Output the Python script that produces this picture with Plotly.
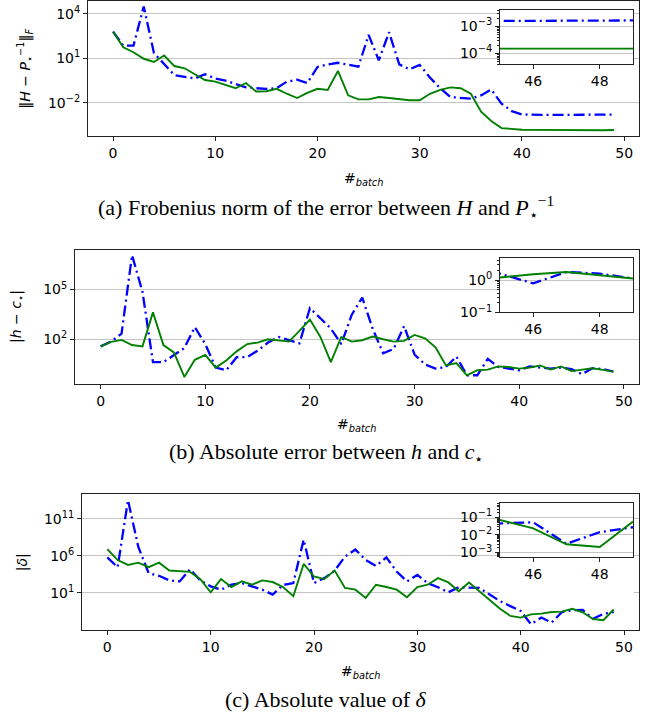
import plotly.graph_objects as go

W, H = 654, 722

batch = list(range(50))

# (a) Frobenius norm, log10 values
a_blue_log = [2.79, 1.85, 1.85, 4.48, 1.36, 0.59, -0.13, -0.24, -0.35, -0.07,
              -0.35, -0.50, -0.75, -0.95, -1.01, -1.05, -1.01, -0.57, -0.44, -0.66,
              0.42, 0.59, 0.70, 0.59, 0.44, 2.57, 0.86, 2.75, 0.59, 0.26,
              0.55, -0.29, -1.01, -1.60, -1.67, -1.71, -1.49, -1.10, -2.04, -2.55,
              -2.77, -2.80, -2.80, -2.80, -2.80, -2.80, -2.80, -2.80, -2.79, -2.78]
a_green_log = [2.79, 1.74, 1.41, 0.97, 0.75, 1.19, 0.48, 0.33, -0.07, -0.46,
               -0.57, -0.79, -1.01, -0.66, -1.23, -1.21, -1.05, -1.38, -1.67, -1.32,
               -1.05, -1.12, 0.15, -1.49, -1.76, -1.76, -1.60, -1.67, -1.76, -1.82,
               -1.82, -1.38, -1.12, -0.95, -1.01, -1.38, -2.59, -3.21, -3.69, -3.76,
               -3.80, -3.81, -3.82, -3.82, -3.82, -3.82, -3.82, -3.83, -3.83, -3.82]

# (b) |h - c*|
b_blue_log = [1.57, 1.86, 2.34, 7.07, 4.86, 0.62, 0.62, 1.06, 1.47, 2.73,
              1.71, 0.29, 0.13, 0.92, 0.92, 1.31, 1.80, 2.14, 1.94, 1.75,
              3.88, 3.24, 2.65, 1.71, 3.48, 4.51, 2.63, 1.15, 1.41, 2.79,
              1.08, 0.48, 0.23, 0.33, 0.96, -0.17, -0.17, 0.82, 0.33, 0.23,
              0.13, 0.36, 0.29, 0.23, 0.29, 0.20, -0.10, 0.25, 0.20, 0.05]
b_green_log = [1.57, 1.84, 1.96, 1.65, 1.57, 3.62, 1.65, 1.21, -0.27, 0.76,
               1.06, 0.29, 0.72, 1.27, 1.71, 1.80, 2.00, 1.94, 1.86, 2.50,
               3.19, 2.14, 0.62, 2.14, 1.86, 1.94, 2.16, 2.00, 1.86, 1.90,
               2.26, 2.06, 1.51, 0.42, 0.56, -0.17, 0.13, 0.17, 0.36, 0.33,
               0.23, 0.29, 0.42, 0.17, 0.36, 0.08, 0.18, 0.25, 0.15, 0.05]

# (c) |delta|
c_blue_log = [5.80, 4.47, 13.53, 7.22, 3.67, 3.31, 2.69, 2.56, 4.20, 2.69,
              1.89, 1.44, 2.11, 2.33, 1.89, 1.44, 0.78, 2.07, 2.33, 8.20,
              2.33, 3.00, 4.02, 5.89, 6.87, 5.44, 4.64, 5.80, 3.89, 2.56,
              3.44, 2.33, 1.76, 1.09, 1.76, 1.76, 1.67, 0.78, -0.11, -0.78,
              -1.44, -3.22, -2.33, -3.00, -1.58, -1.34, -1.28, -2.50, -1.84, -1.56]
c_green_log = [6.91, 5.44, 4.78, 5.09, 4.47, 5.09, 4.02, 3.98, 3.84, 2.87,
               1.09, 2.87, 1.80, 2.56, 2.11, 2.69, 2.47, 1.80, 0.56, 4.91,
               3.22, 2.87, 4.02, 1.67, 1.44, 0.33, 2.11, 1.80, 1.44, 0.42,
               1.80, 2.11, 3.00, 2.42, 1.22, 2.42, 1.22, 0.02, -1.13, -2.11,
               -2.33, -1.89, -1.80, -1.58, -1.53, -1.15, -1.62, -2.53, -2.68, -1.24]

captions = [
    "(a) Frobenius norm of the error between <i>H</i> and <i>P</i><sub>⋆</sub><sup>−1</sup>",
    "(b) Absolute error between <i>h</i> and <i>c</i><sub>⋆</sub>",
    "(c) Absolute value of <i>δ</i>",
]
ylabels = [
    "‖<i>H</i> − <i>P</i><sub>⋆</sub><sup>−1</sup>‖<sub><i>F</i></sub>",
    "|<i>h</i> − <i>c</i><sub>⋆</sub>|",
    "|<i>δ</i>|",
]
xlabel = "#<sub><i>batch</i></sub>"

main_ticks = [[1e-2, 1e1, 1e4], [1e2, 1e5], [1e1, 1e6, 1e11]]
main_ticktext = [["10<sup>−2</sup>", "10<sup>1</sup>", "10<sup>4</sup>"],
                 ["10<sup>2</sup>", "10<sup>5</sup>"],
                 ["10<sup>1</sup>", "10<sup>6</sup>", "10<sup>11</sup>"]]
inset_ticks = [[1e-4, 1e-3], [1e-1, 1e0], [1e-3, 1e-2, 1e-1]]
inset_ticktext = [["10<sup>−4</sup>", "10<sup>−3</sup>"],
                  ["10<sup>−1</sup>", "10<sup>0</sup>"],
                  ["10<sup>−3</sup>", "10<sup>−2</sup>", "10<sup>−1</sup>"]]

series = [(a_blue_log, a_green_log), (b_blue_log, b_green_log), (c_blue_log, c_green_log)]

# layout geometry in pixels
main_box = [(88, 639, 1, 138), (75, 639, 253, 388), (82, 639, 500, 637)]
inset_box = [(500, 633, 10, 65), (500, 633, 261, 316), (500, 633, 509, 563)]
main_xrange = [-2.45, 51.45]
main_yrange = [[-4.25, 4.85], [-0.68, 7.37], [-4.0, 14.3]]
inset_yrange = [[-4.4, -2.39], [-1.0, 0.68], [-3.24, -0.2]]
caption_y = [210, 458, 707]
xlabel_y = [181, 430, 680]
ylabel_x = [25, 17, 22]


def px(x):
    return x / W


def py(y):
    return 1 - y / H


fig = go.Figure()
layout = {}
shapes = []
annotations = []
tickfont = dict(family="DejaVu Sans", size=14, color="black")
BLUE = "#0000ff"
GREEN = "#008000"

for k in range(3):
    mi = 2 * k + 1
    ii = 2 * k + 2
    blue, green = series[k]
    blue_v = [10 ** v for v in blue]
    green_v = [10 ** v for v in green]
    for ax_i in (mi, ii):
        xa = "x" if ax_i == 1 else f"x{ax_i}"
        ya = "y" if ax_i == 1 else f"y{ax_i}"
        fig.add_trace(go.Scatter(x=batch, y=blue_v, mode="lines", xaxis=xa, yaxis=ya,
                                 line=dict(color=BLUE, width=2.3, dash="11px,4px,2px,4px"),
                                 showlegend=False, hoverinfo="skip"))
        fig.add_trace(go.Scatter(x=batch, y=green_v, mode="lines", xaxis=xa, yaxis=ya,
                                 line=dict(color=GREEN, width=1.9),
                                 showlegend=False, hoverinfo="skip"))
    x0, x1, y0, y1 = main_box[k]
    common = dict(showline=True, linecolor="#222222", linewidth=1, mirror=True,
                  ticks="outside", ticklen=4, tickwidth=1, tickcolor="#222222",
                  tickfont=tickfont, zeroline=False)
    mx = "xaxis" if mi == 1 else f"xaxis{mi}"
    my = "yaxis" if mi == 1 else f"yaxis{mi}"
    layout[mx] = dict(domain=[px(x0), px(x1)], range=main_xrange,
                      anchor="y" if mi == 1 else f"y{mi}",
                      tickmode="array", tickvals=[0, 10, 20, 30, 40, 50],
                      showgrid=False, **common)
    layout[my] = dict(domain=[py(y1), py(y0)], type="log", range=main_yrange[k],
                      anchor="x" if mi == 1 else f"x{mi}",
                      tickmode="array", tickvals=main_ticks[k], ticktext=main_ticktext[k],
                      showgrid=True, gridcolor="#c4c4c4", gridwidth=1, **common)
    ix0, ix1, iy0, iy1 = inset_box[k]
    layout[f"xaxis{ii}"] = dict(domain=[px(ix0), px(ix1)], range=[45, 49],
                                anchor=f"y{ii}", tickmode="array", tickvals=[46, 48],
                                showgrid=False, **common)
    layout[f"yaxis{ii}"] = dict(domain=[py(iy1), py(iy0)], type="log", range=inset_yrange[k],
                                anchor=f"x{ii}", tickmode="array", tickvals=inset_ticks[k],
                                ticktext=inset_ticktext[k], showgrid=True,
                                gridcolor="#c4c4c4", gridwidth=1,
                                minor=dict(ticks="outside", ticklen=2.5, tickcolor="#222222",
                                           dtick="D1", showgrid=False),
                                **common)
    # white cover of the main grid under the inset (in main-axis coordinates)
    r0, r1 = main_yrange[k]
    sx = lambda p: main_xrange[0] + (p - x0) / (x1 - x0) * (main_xrange[1] - main_xrange[0])
    sy = lambda p: r0 + (y1 - p) / (y1 - y0) * (r1 - r0)
    shapes.append(dict(type="rect", xref="x" if mi == 1 else f"x{mi}",
                       yref="y" if mi == 1 else f"y{mi}",
                       x0=sx(ix0 - 1), x1=sx(ix1 + 1), y0=sy(iy1 + 1), y1=sy(iy0 - 1),
                       fillcolor="white", line=dict(width=0), layer="between"))
    annotations.append(dict(text=captions[k], x=px(326), y=py(caption_y[k]), xref="paper",
                            yref="paper", showarrow=False, xanchor="center", yanchor="middle",
                            font=dict(family="Liberation Serif", size=22, color="black")))
    annotations.append(dict(text=xlabel, x=px((x0 + x1) / 2), y=py(xlabel_y[k]), xref="paper",
                            yref="paper", showarrow=False, xanchor="center", yanchor="middle",
                            font=dict(family="DejaVu Sans", size=14, color="black")))
    annotations.append(dict(text=ylabels[k], x=px(ylabel_x[k]), y=py((y0 + y1) / 2),
                            xref="paper", yref="paper", showarrow=False, textangle=-90,
                            xanchor="center", yanchor="middle",
                            font=dict(family="DejaVu Sans", size=14, color="black")))

fig.update_layout(width=W, height=H, margin=dict(l=0, r=0, t=0, b=0),
                  paper_bgcolor="white", plot_bgcolor="white",
                  shapes=shapes, annotations=annotations, **layout)
fig.write_html("out.html", config={"displayModeBar": False},
               post_script="document.body.style.margin='0';")
